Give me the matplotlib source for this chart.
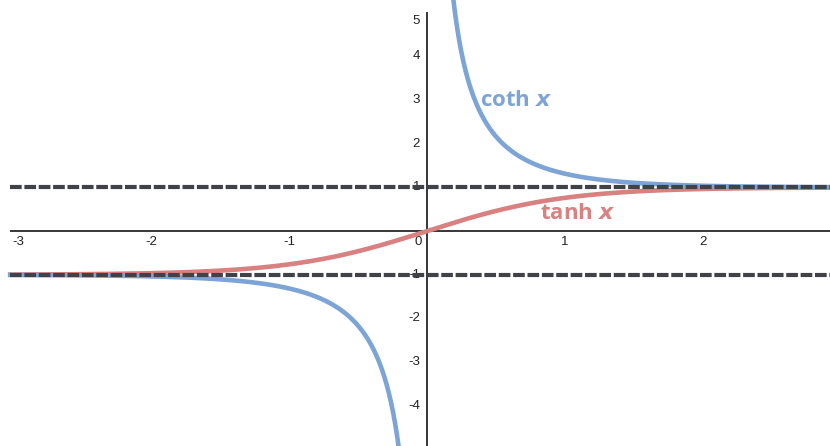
import numpy as np
import matplotlib
matplotlib.use('Agg')
import matplotlib.pyplot as plt

# data
x_left = np.linspace(-3.02, -0.05, 600)
x_right = np.linspace(0.05, 2.92, 600)
x_all = np.linspace(-3.02, 2.92, 800)
asymptotes = [1, -1]
xticks = [-3, -2, -1, 1, 2]
yticks = [-4, -3, -2, -1, 1, 2, 3, 4]

blue = '#7ca4d6'
red = '#d98080'
dash_col = '#414148'

plt.rcParams['font.family'] = ['Liberation Sans', 'DejaVu Sans']

fig = plt.figure(figsize=(8.3, 4.46), dpi=100)
ax = fig.add_axes([0, 0, 1, 1])
ax.set_xlim(-3.094, 2.92)
ax.set_ylim(-4.92, 5.29)

for s in ax.spines.values():
    s.set_visible(False)
ax.set_xticks([])
ax.set_yticks([])

# axes through the origin
ax.hlines(0, -3.02, 2.92, color='black', lw=1.1, zorder=2)
ax.vlines(0, -4.92, 5.02, color='black', lw=1.1, zorder=2)

# tick labels
for t in xticks:
    dx = 4 if t == xticks[0] else 0  # first label nudged inside the axis end
    ax.annotate(str(t), xy=(t, 0), xytext=(dx, -3.5), textcoords='offset points',
                ha='center', va='top', fontsize=9.5, color='#222222', zorder=1)
for t in yticks:
    ax.annotate(str(t), xy=(0, t), xytext=(-5, 0), textcoords='offset points',
                ha='right', va='center', fontsize=9.5, color='#222222', zorder=1)
# top label sits a bit lower, at the end of the axis
ax.annotate('5', xy=(0, 5), xytext=(-5, -6), textcoords='offset points',
            ha='right', va='center', fontsize=9.5, color='#222222', zorder=1)
ax.annotate('0', xy=(0, 0), xytext=(-4, -3.5), textcoords='offset points',
            ha='right', va='top', fontsize=9.5, color='#222222', zorder=1)

# curves
ax.plot(x_all, np.tanh(x_all), color=red, lw=3.3, zorder=3)
ax.plot(x_right, 1 / np.tanh(x_right), color=blue, lw=3.3, zorder=3)
ax.plot(x_left, 1 / np.tanh(x_left), color=blue, lw=3.3, zorder=3)

# asymptotes
for a in asymptotes:
    ax.hlines(a, -3.02, 2.92, color=dash_col, lw=3.0, linestyles=[(0, (2.8, 0.65))],
              capstyle='butt', zorder=4)

# labels
ax.text(0.385, 3.0, 'coth $\\boldsymbol{x}$', color=blue, fontsize=16, fontweight='bold',
        family=['Open Sans', 'DejaVu Sans'], ha='left', va='center', zorder=5)
ax.text(0.82, 0.4, 'tanh $\\boldsymbol{x}$', color=red, fontsize=16, fontweight='bold',
        family=['Open Sans', 'DejaVu Sans'], ha='left', va='center', zorder=5)

fig.savefig('out.png', dpi=100)
